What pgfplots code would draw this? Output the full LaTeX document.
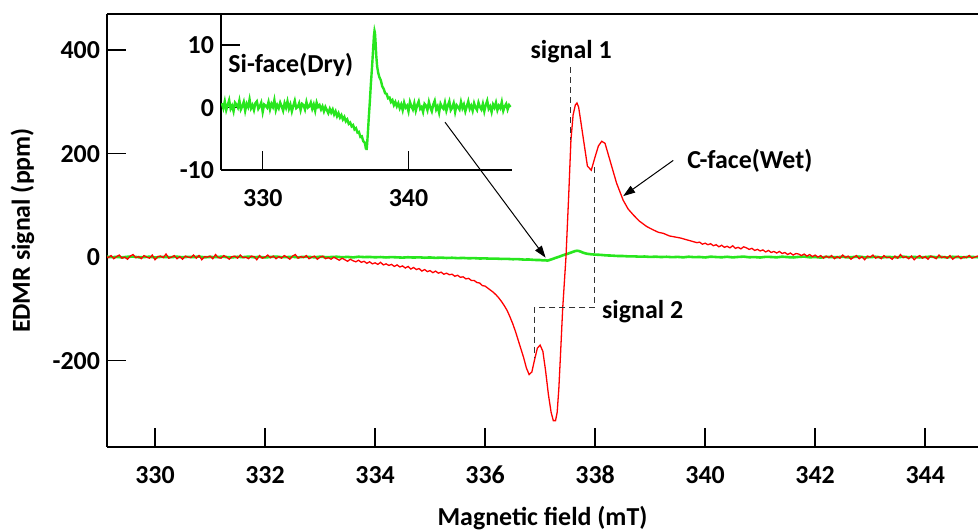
\documentclass[border=0pt]{standalone}
\usepackage{fontspec}
\setmainfont{Carlito}
\usepackage{pgfplots}
\usepackage{pgfplotstable}
\pgfplotsset{compat=1.18}
\usetikzlibrary{arrows.meta}

\definecolor{wetred}{RGB}{255,0,0}
\definecolor{drygreen}{RGB}{40,230,30}
\newcommand\ff{\fontsize{13}{15.6}\selectfont\bfseries}

% C-face (Wet), EDMR signal in ppm
\pgfplotstableread{
x y
329.10 2
329.15 -1
329.20 3
329.25 -3
329.30 1
329.35 4
329.40 -2
329.45 0
329.50 -4
329.55 2
329.60 5
329.65 -1
329.70 1
329.75 -3
329.80 3
329.85 0
329.90 -2
329.95 4
330.00 -5
330.05 1
330.10 2
330.15 -1
330.20 6
330.25 -2
330.30 0
330.35 3
330.40 -3
330.45 1
330.50 -4
330.55 2
330.60 0
330.65 -1
330.70 4
330.75 -2
330.80 3
330.85 -5
330.90 1
330.95 0
331.00 2
331.05 -3
331.10 5
331.15 -1
331.20 -2
331.25 3
331.30 0
331.35 -4
331.40 1
331.45 2
331.50 -2
331.55 4
331.60 -1
331.65 0
331.70 -3
331.75 2
331.80 1
331.85 -5
331.90 3
331.95 -2
332.00 0
332.05 4
332.10 -1
332.15 2
332.20 -3
332.25 1
332.30 -2
332.35 3
332.40 0
332.45 -4
332.50 2
332.55 5
332.60 -2
332.65 1
332.70 -1
332.75 3
332.80 -3
332.85 0
332.90 2
332.95 -4
333.00 0
333.05 2
333.10 -3
333.15 -1
333.20 -4
333.25 0
333.30 -3
333.35 -6
333.40 -2
333.45 -5
333.50 -8
333.55 -4
333.60 -7
333.65 -9
333.70 -6
333.75 -10
333.80 -8
333.85 -12
333.90 -9
333.95 -13
334.00 -11
334.05 -14
334.10 -10
334.15 -15
334.20 -13
334.25 -16
334.30 -14
334.35 -18
334.40 -15
334.45 -19
334.50 -17
334.55 -21
334.60 -18
334.65 -23
334.70 -20
334.75 -24
334.80 -22
334.85 -27
334.90 -24
334.95 -28
335.00 -26
335.05 -30
335.10 -27
335.15 -31
335.20 -29
335.25 -33
335.30 -31
335.35 -34
335.40 -33
335.45 -37
335.50 -35
335.55 -39
335.60 -38
335.65 -42
335.70 -41
335.75 -45
335.80 -45
335.85 -49
335.90 -50
335.95 -55
336.00 -56
336.05 -60
336.10 -64
336.15 -68
336.20 -73
336.25 -79
336.30 -86
336.35 -94
336.40 -103
336.45 -115
336.50 -128
336.55 -143
336.60 -160
336.65 -177
336.70 -194
336.75 -214
336.80 -227
336.85 -222
336.90 -198
336.95 -176
337.00 -170
337.05 -182
337.10 -220
337.15 -265
337.20 -300
337.24 -316
337.28 -316
337.31 -300
337.34 -255
337.37 -190
337.41 -100
337.47 0
337.52 120
337.56 226
337.60 275
337.64 294
337.67 298
337.70 290
337.74 262
337.79 226
337.86 176
337.93 168
338.00 194
338.06 215
338.12 224
338.18 220
338.27 187
338.39 143
338.51 110
338.60 93
338.70 81
338.80 70
338.94 59
339.05 53
339.15 48
339.24 46
339.35 41
339.45 39
339.55 37
339.65 34
339.75 31
339.85 28
339.90 29
339.95 25
340.00 27
340.05 24
340.10 26
340.15 22
340.20 24
340.25 20
340.30 23
340.35 19
340.40 21
340.45 18
340.50 22
340.55 17
340.60 19
340.65 16
340.70 20
340.75 18
340.80 15
340.85 17
340.90 13
340.95 15
341.00 12
341.05 14
341.10 10
341.15 13
341.20 9
341.25 11
341.30 8
341.35 11
341.40 7
341.45 9
341.50 5
341.55 8
341.60 4
341.65 7
341.70 6
341.75 3
341.80 6
341.85 2
341.90 5
341.95 1
342.00 4
342.05 0
342.10 3
342.15 -2
342.20 2
342.25 -1
342.30 3
342.35 -3
342.40 1
342.45 -2
342.50 4
342.55 -1
342.60 2
342.65 -4
342.70 0
342.75 3
342.80 -3
342.85 1
342.90 -5
342.95 2
343.00 0
343.05 4
343.10 -2
343.15 1
343.20 -3
343.25 3
343.30 -1
343.35 0
343.40 -4
343.45 2
343.50 -2
343.55 5
343.60 -1
343.65 1
343.70 -3
343.75 2
343.80 -5
343.85 0
343.90 3
343.95 -2
344.00 1
344.05 -4
344.10 2
344.15 0
344.20 -3
344.25 4
344.30 -1
344.35 1
344.40 -2
344.45 3
344.50 -4
344.55 0
344.60 2
344.65 -3
344.70 1
344.75 -1
344.80 3
344.85 -2
344.90 0
344.95 2
345.00 -1
}\wet

% Si-face (Dry), EDMR signal in ppm
\pgfplotstableread{
x y
327.2 0.7
327.3 -0.1
327.4 1.0
327.5 -0.4
327.6 0.4
327.7 1.2
327.8 -0.2
327.9 0.3
328.0 -0.6
328.1 0.8
328.2 0.5
328.3 0.0
328.4 1.1
328.5 -0.3
328.6 0.2
328.7 0.9
328.8 -0.5
328.9 0.6
329.0 0.1
329.1 1.3
329.2 -0.1
329.3 0.4
329.4 -0.4
329.5 0.7
329.6 1.0
329.7 -0.2
329.8 0.2
329.9 0.8
330.0 -0.7
330.1 0.5
330.2 0.3
330.3 0.0
330.4 0.9
330.5 -0.3
330.6 0.6
330.7 0.1
330.8 1.2
330.9 -0.4
331.0 0.4
331.1 -0.1
331.2 0.8
331.3 0.2
331.4 -0.5
331.5 0.7
331.6 0.0
331.7 1.0
331.8 -0.2
331.9 0.5
332.0 -0.6
332.1 0.3
332.2 1.1
332.3 -0.1
332.4 0.1
332.5 0.7
332.6 -0.4
332.7 0.6
332.8 0.4
332.9 -0.3
333.0 0.9
333.1 0.0
333.2 0.2
333.3 0.8
333.4 -0.2
333.5 0.5
333.6 -0.5
333.7 0.8
333.8 0.1
333.9 0.4
334.0 -0.3
334.1 0.2
334.2 -0.6
334.3 0.1
334.4 -0.4
334.5 -0.9
334.6 -0.2
334.7 -0.8
334.8 -0.3
334.9 -1.1
335.0 -0.6
335.1 -1.4
335.2 -0.9
335.3 -1.6
335.4 -1.2
335.5 -1.9
335.6 -1.5
335.7 -2.2
335.8 -1.9
335.9 -2.6
336.0 -2.4
336.1 -3.0
336.2 -2.8
336.3 -3.5
336.4 -3.3
336.5 -4.0
336.6 -3.9
336.7 -4.7
336.8 -4.6
336.9 -5.4
337.0 -5.6
337.05 -6.2
337.10 -6.0
337.13 -6.8
337.17 -5.6
337.22 -3.8
337.28 -1.5
337.35 1.0
337.42 3.8
337.50 6.5
337.57 9.2
337.63 11.5
337.67 12.3
337.70 12.0
337.74 10.5
337.79 8.3
337.85 6.6
337.92 5.6
338.00 4.9
338.10 4.4
338.20 3.4
338.30 3.0
338.40 2.3
338.50 2.2
338.60 1.5
338.70 1.6
338.80 0.9
338.90 1.2
339.00 0.4
339.1 0.9
339.2 0.2
339.3 0.7
339.4 -0.1
339.5 0.5
339.6 -0.4
339.7 0.8
339.8 0.0
339.9 0.3
340.0 -0.6
340.1 0.9
340.2 0.2
340.3 -0.3
340.4 0.7
340.5 -0.5
340.6 0.4
340.7 1.0
340.8 -0.2
340.9 0.1
341.0 -0.7
341.1 0.6
341.2 0.3
341.3 -0.4
341.4 0.9
341.5 0.0
341.6 -0.6
341.7 0.5
341.8 1.1
341.9 -0.3
342.0 0.2
342.1 -0.8
342.2 0.6
342.3 0.1
342.4 -0.2
342.5 0.8
342.6 -0.5
342.7 0.3
342.8 1.0
342.9 -0.4
343.0 0.0
343.1 0.7
343.2 -0.7
343.3 0.4
343.4 0.1
343.5 -0.3
343.6 0.9
343.7 -0.1
343.8 0.5
343.9 -0.6
344.0 0.2
344.1 1.0
344.2 -0.2
344.3 0.3
344.4 -0.5
344.5 0.7
344.6 0.0
344.7 -0.4
344.8 0.8
344.9 0.1
345.0 -0.3
345.1 0.6
345.2 -0.6
345.3 0.4
345.4 1.1
345.5 -0.2
345.6 0.2
345.7 -0.7
345.8 0.5
345.9 0.0
346.0 0.8
346.1 -0.4
346.2 0.3
346.3 -0.1
346.4 0.9
346.5 -0.5
346.6 0.2
346.7 0.6
346.8 -0.3
346.9 0.4
347.0 0.1
}\dry

\pgfplotsset{
  edmr/.style={
    scale only axis, anchor=south west,
    tick align=inside, major tick length=9.5bp,
    tick style={black, line width=0.8pt},
    axis line style={line width=0.8pt},
    /pgf/number format/assume math mode=true,
    ticklabel style={font=\ff},
    label style={font=\ff},
    xticklabel style={yshift=-6bp},
    clip mode=individual,
  }
}

\begin{document}
\begin{tikzpicture}[font=\ff]
% main plot
\begin{axis}[edmr,
    at={(53.5bp,42bp)}, width=435.5bp, height=216.5bp,
    xmin=329.127, xmax=344.96, ymin=-367, ymax=470,
    axis x line*=box, axis y line*=left,
    xtick={330,332,...,344}, ytick={-200,0,200,400},
    xtick pos=left, ytick pos=left,
    xlabel={Magnetic field (mT)},
    ylabel={EDMR signal (ppm)},
    xlabel style={at={(axis description cs:0.5,-0.181)}, anchor=base},
    ylabel style={at={(axis description cs:-0.097,0.5)}, anchor=center},
]
\addplot[drygreen, line width=1.3bp] table {\dry};
\addplot[wetred, line width=0.65bp] table {\wet};

\draw[black!80, line width=0.5bp, dash pattern=on 3bp off 2bp]
    (axis cs:337.56,367) -- (axis cs:337.56,226);
\draw[black!80, line width=0.5bp, dash pattern=on 3bp off 2bp]
    (axis cs:337.99,174) -- (axis cs:337.99,-98) -- (axis cs:336.89,-98) -- (axis cs:336.89,-195);
\node[anchor=base west, inner sep=0] at (axis cs:336.82,384.5) {signal 1};
\node[anchor=base west, inner sep=0] at (axis cs:338.12,-118) {signal 2};
\node[anchor=base west, inner sep=0] at (axis cs:339.67,172) {C-face(Wet)};
\draw[line width=0.5bp, -{Triangle[length=6bp,width=4bp]}]
    (axis cs:339.42,187) -- (axis cs:338.51,118);
\draw[line width=0.5bp, -{Triangle[length=6bp,width=4bp]}]
    (axis cs:335.27,261) -- (axis cs:337.1,-1);
\end{axis}

% inset
\begin{axis}[edmr,
    at={(110.5bp,180.5bp)}, width=145.5bp, height=78bp,
    xmin=327.14, xmax=347.1, ymin=-10, ymax=15,
    axis lines*=left,
    xtick={330,340}, ytick={-10,0,10},
]
\addplot[drygreen, line width=1.2bp] table {\dry};
\node[anchor=base west, inner sep=0] at (axis cs:327.62,5.65) {Si-face(Dry)};
\end{axis}

\pgfresetboundingbox
\path[use as bounding box] (0,0) rectangle (489bp,265.5bp);
\end{tikzpicture}
\end{document}
